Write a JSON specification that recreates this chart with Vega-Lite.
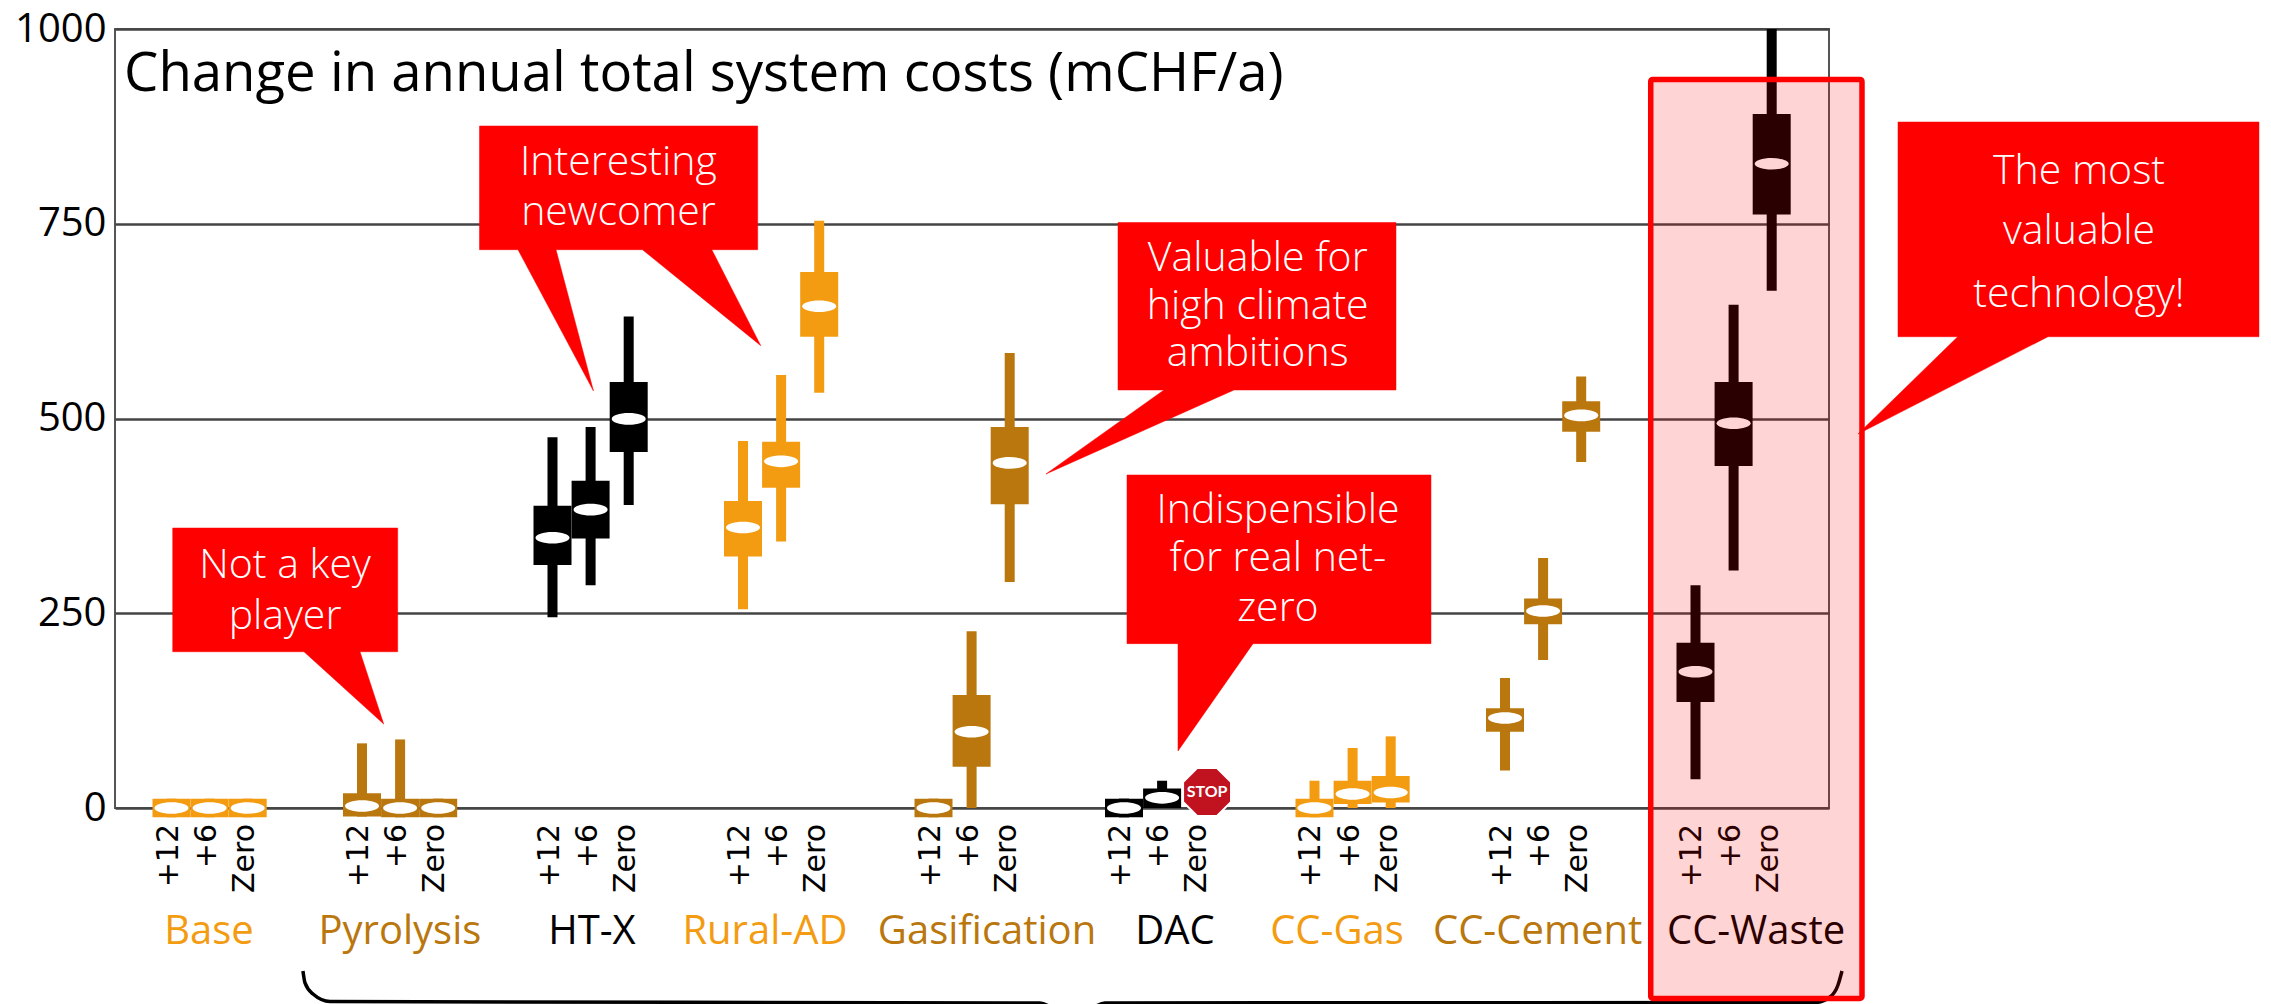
{
"$schema":"https://vega.github.io/schema/vega-lite/v6.json",
"width":1714,"height":779,
"autosize":{"type":"none"},
"padding":{"left":115,"right":442,"top":29,"bottom":196},
"background":"white",
"view":{"stroke":"#555555","strokeWidth":2},
"datasets":{
"scenarios":[
{"tech":"Base","case":"+12","x":0,"lo":-12,"q1":-12,"med":0,"q3":12,"hi":12},
{"tech":"Base","case":"+6","x":0.2,"lo":-12,"q1":-12,"med":0,"q3":12,"hi":12},
{"tech":"Base","case":"Zero","x":0.4,"lo":-12,"q1":-12,"med":0,"q3":12,"hi":12},
{"tech":"Pyrolysis","case":"+12","x":1,"lo":-11,"q1":-11,"med":2.5,"q3":19,"hi":83},
{"tech":"Pyrolysis","case":"+6","x":1.2,"lo":-12,"q1":-12,"med":0,"q3":12,"hi":88},
{"tech":"Pyrolysis","case":"Zero","x":1.4,"lo":-12,"q1":-12,"med":0,"q3":12,"hi":12},
{"tech":"HT-X","case":"+12","x":2,"lo":245,"q1":312,"med":347,"q3":388,"hi":476},
{"tech":"HT-X","case":"+6","x":2.2,"lo":286,"q1":346,"med":383,"q3":420,"hi":489},
{"tech":"HT-X","case":"Zero","x":2.4,"lo":389,"q1":457,"med":499.5,"q3":547,"hi":631},
{"tech":"Rural-AD","case":"+12","x":3,"lo":255,"q1":323,"med":360,"q3":394,"hi":471},
{"tech":"Rural-AD","case":"+6","x":3.2,"lo":342,"q1":411,"med":445,"q3":470,"hi":556},
{"tech":"Rural-AD","case":"Zero","x":3.4,"lo":533,"q1":605,"med":644,"q3":688,"hi":754},
{"tech":"Gasification","case":"+12","x":4,"lo":-12,"q1":-12,"med":0,"q3":12,"hi":12},
{"tech":"Gasification","case":"+6","x":4.2,"lo":0,"q1":53,"med":98,"q3":145,"hi":227},
{"tech":"Gasification","case":"Zero","x":4.4,"lo":290,"q1":390,"med":443,"q3":489,"hi":584},
{"tech":"DAC","case":"+12","x":5,"lo":-12,"q1":-12,"med":0,"q3":12,"hi":12},
{"tech":"DAC","case":"+6","x":5.2,"lo":0,"q1":0,"med":13,"q3":25,"hi":35},
{"tech":"DAC","case":"Zero","x":5.4,"lo":null,"q1":null,"med":null,"q3":null,"hi":null},
{"tech":"CC-Gas","case":"+12","x":6,"lo":-12,"q1":-12,"med":0,"q3":12,"hi":35},
{"tech":"CC-Gas","case":"+6","x":6.2,"lo":0,"q1":5,"med":18,"q3":35,"hi":77},
{"tech":"CC-Gas","case":"Zero","x":6.4,"lo":0,"q1":7,"med":20,"q3":41,"hi":92},
{"tech":"CC-Cement","case":"+12","x":7,"lo":48,"q1":98,"med":115.5,"q3":128,"hi":167},
{"tech":"CC-Cement","case":"+6","x":7.2,"lo":190,"q1":236,"med":253,"q3":269,"hi":321},
{"tech":"CC-Cement","case":"Zero","x":7.4,"lo":444,"q1":483,"med":504,"q3":522,"hi":554},
{"tech":"CC-Waste","case":"+12","x":8,"lo":37,"q1":136,"med":175,"q3":212,"hi":286},
{"tech":"CC-Waste","case":"+6","x":8.2,"lo":305,"q1":439,"med":494,"q3":547,"hi":646},
{"tech":"CC-Waste","case":"Zero","x":8.4,"lo":664,"q1":762,"med":827,"q3":891,"hi":1000}
],
"caseLabels":[
{"case":"+12","x":0},{"case":"+6","x":0.2},{"case":"Zero","x":0.4},
{"case":"+12","x":1},{"case":"+6","x":1.2},{"case":"Zero","x":1.4},
{"case":"+12","x":2},{"case":"+6","x":2.2},{"case":"Zero","x":2.4},
{"case":"+12","x":3},{"case":"+6","x":3.2},{"case":"Zero","x":3.4},
{"case":"+12","x":4},{"case":"+6","x":4.2},{"case":"Zero","x":4.4},
{"case":"+12","x":5},{"case":"+6","x":5.2},{"case":"Zero","x":5.4},
{"case":"+12","x":6},{"case":"+6","x":6.2},{"case":"Zero","x":6.4},
{"case":"+12","x":7},{"case":"+6","x":7.2},{"case":"Zero","x":7.4},
{"case":"+12","x":8},{"case":"+6","x":8.2},{"case":"Zero","x":8.4}
],
"techLabels":[
{"tech":"Base","x":0.197},{"tech":"Pyrolysis","x":1.199},{"tech":"HT-X","x":2.207},{"tech":"Rural-AD","x":3.115},{"tech":"Gasification","x":4.281},{"tech":"DAC","x":5.268},{"tech":"CC-Gas","x":6.118},{"tech":"CC-Cement","x":7.171},{"tech":"CC-Waste","x":8.318}
],
"bracket":[
{"piece":"a","i":0,"x":0.690,"y":-209.2},{"piece":"a","i":1,"x":0.7008,"y":-224.6},{"piece":"a","i":2,"x":0.7428,"y":-238.8},{"piece":"a","i":3,"x":0.832,"y":-248.4},{"piece":"a","i":4,"x":4.559,"y":-250.3},{"piece":"a","i":5,"x":4.637,"y":-259.3},
{"piece":"b","i":0,"x":4.822,"y":-259.3},{"piece":"b","i":1,"x":4.9,"y":-250.3},{"piece":"b","i":2,"x":8.627,"y":-249.6},{"piece":"b","i":3,"x":8.706,"y":-242.6},{"piece":"b","i":4,"x":8.748,"y":-227.2},{"piece":"b","i":5,"x":8.769,"y":-209.2}
],
"highlight":[{"x":7.765,"x2":8.874,"y":935.2,"y2":-244.5}],
"callouts":[
{"id":"c1","i":0,"x":0.0063,"y":359.4},{"id":"c1","i":1,"x":1.1874,"y":359.4},{"id":"c1","i":2,"x":1.1874,"y":200.6},{"id":"c1","i":3,"x":0.9895,"y":200.6},{"id":"c1","i":4,"x":1.1139,"y":107.8},{"id":"c1","i":5,"x":0.6955,"y":200.6},{"id":"c1","i":6,"x":0.0063,"y":200.6},{"id":"c1","i":7,"x":0.0063,"y":359.4},
{"id":"c2","i":0,"x":1.6168,"y":875.5},{"id":"c2","i":1,"x":3.0772,"y":875.5},{"id":"c2","i":2,"x":3.0772,"y":716.7},{"id":"c2","i":3,"x":2.8362,"y":716.7},{"id":"c2","i":4,"x":3.0934,"y":593.5},{"id":"c2","i":5,"x":2.4724,"y":716.7},{"id":"c2","i":6,"x":2.0184,"y":716.7},{"id":"c2","i":7,"x":2.2152,"y":535.3},{"id":"c2","i":8,"x":1.8189,"y":716.7},{"id":"c2","i":9,"x":1.6168,"y":716.7},{"id":"c2","i":10,"x":1.6168,"y":875.5},
{"id":"c3","i":0,"x":4.9685,"y":751.6},{"id":"c3","i":1,"x":6.4278,"y":751.6},{"id":"c3","i":2,"x":6.4278,"y":536.6},{"id":"c3","i":3,"x":5.5774,"y":536.6},{"id":"c3","i":4,"x":4.5906,"y":428.8},{"id":"c3","i":5,"x":5.21,"y":536.6},{"id":"c3","i":6,"x":4.9685,"y":536.6},{"id":"c3","i":7,"x":4.9685,"y":751.6},
{"id":"c4","i":0,"x":5.0157,"y":427.5},{"id":"c4","i":1,"x":6.6115,"y":427.5},{"id":"c4","i":2,"x":6.6115,"y":211},{"id":"c4","i":3,"x":5.6772,"y":211},{"id":"c4","i":4,"x":5.2835,"y":73.2},{"id":"c4","i":5,"x":5.2835,"y":211},{"id":"c4","i":6,"x":5.0157,"y":211},{"id":"c4","i":7,"x":5.0157,"y":427.5},
{"id":"c5","i":0,"x":9.063,"y":880.6},{"id":"c5","i":1,"x":10.958,"y":880.6},{"id":"c5","i":2,"x":10.958,"y":605},{"id":"c5","i":3,"x":9.8504,"y":605},{"id":"c5","i":4,"x":8.853,"y":480.1},{"id":"c5","i":5,"x":9.3764,"y":605},{"id":"c5","i":6,"x":9.063,"y":605},{"id":"c5","i":7,"x":9.063,"y":880.6}
],
"calloutText":[
{"text":"Not a key","x":0.5958,"y":310.7},{"text":"player","x":0.5958,"y":245.2},
{"text":"Interesting","x":2.346,"y":828},{"text":"newcomer","x":2.346,"y":763.8},
{"text":"Valuable for","x":5.702,"y":704.8},{"text":"high climate","x":5.702,"y":643.1},{"text":"ambitions","x":5.702,"y":582.8},
{"text":"Indispensible","x":5.808,"y":381.6},{"text":"for real net-","x":5.808,"y":319.6},{"text":"zero","x":5.808,"y":255.5},
{"text":"The most","x":10.013,"y":816.8},{"text":"valuable","x":10.013,"y":739.8},{"text":"technology!","x":10.013,"y":658.5}
]
},
"layer":[
{"data":{"name":"scenarios"},"mark":{"type":"rule","strokeWidth":10,"strokeCap":"butt"},
 "encoding":{
  "x":{"field":"x","type":"quantitative","axis":null,"scale":{"domain":[-0.2966,8.7008],"nice":false,"zero":false}},
  "y":{"field":"lo","type":"quantitative","scale":{"domain":[0,1000],"nice":false,"zero":false},
   "axis":{"title":null,"values":[0,250,500,750,1000],"format":"d","grid":true,"gridColor":"#444444","gridWidth":2.5,"domain":false,"ticks":false,"labelPadding":9,"labelFontSize":40,"labelFont":"Open Sans","labelColor":"#000000","labelBaseline":"middle"}},
  "y2":{"field":"hi"},
  "color":{"field":"tech","type":"nominal","legend":null,"scale":{"domain":["Base","Pyrolysis","HT-X","Rural-AD","Gasification","DAC","CC-Gas","CC-Cement","CC-Waste"],"range":["#F39C12","#B9770E","#000000","#F39C12","#B9770E","#000000","#F39C12","#B9770E","#000000"]}}
 }},
{"data":{"name":"scenarios"},"mark":{"type":"rule","strokeWidth":38,"strokeCap":"butt"},
 "encoding":{
  "x":{"field":"x","type":"quantitative"},
  "y":{"field":"q1","type":"quantitative"},
  "y2":{"field":"q3"},
  "color":{"field":"tech","type":"nominal"}
 }},
{"data":{"name":"scenarios"},"mark":{"type":"point","filled":true,"opacity":1,"fill":"#ffffff","stroke":null,"size":1156,"shape":"M-1,0 A1,0.34 0 1,0 1,0 A1,0.34 0 1,0 -1,0 Z"},
 "encoding":{
  "x":{"field":"x","type":"quantitative"},
  "y":{"field":"med","type":"quantitative"}
 }},
{"data":{"values":[{"x":5.436,"y":20.5}]},"mark":{"type":"point","filled":true,"opacity":1,"fill":"#C1121F","stroke":"#ffffff","strokeWidth":2,"size":2300,"shape":"M-0.414,-1 L0.414,-1 L1,-0.414 L1,0.414 L0.414,1 L-0.414,1 L-1,0.414 L-1,-0.414 Z"},
 "encoding":{
  "x":{"field":"x","type":"quantitative"},
  "y":{"field":"y","type":"quantitative"}
 }},
{"data":{"values":[{"x":5.436,"y":20.5,"text":"STOP"}]},"mark":{"type":"text","font":"Lato","fontWeight":"bold","fontSize":16,"color":"#ffffff","align":"center","baseline":"middle"},
 "encoding":{
  "x":{"field":"x","type":"quantitative"},
  "y":{"field":"y","type":"quantitative"},
  "text":{"field":"text"}
 }},
{"data":{"name":"caseLabels"},"mark":{"type":"text","font":"DejaVu Sans","fontSize":30,"angle":270,"align":"right","baseline":"middle","color":"#000000","dx":0,"dy":-3,"y":795},
 "encoding":{
  "x":{"field":"x","type":"quantitative"},
  "text":{"field":"case"}
 }},
{"data":{"name":"techLabels"},"mark":{"type":"text","font":"Open Sans","fontSize":40,"align":"center","baseline":"middle","y":903},
 "encoding":{
  "x":{"field":"x","type":"quantitative"},
  "text":{"field":"tech"},
  "color":{"field":"tech","type":"nominal"}
 }},
{"data":{"values":[{"x":-0.249,"y":920.8,"text":"Change in annual total system costs (mCHF/a)"}]},"mark":{"type":"text","font":"Open Sans","fontSize":54.5,"align":"left","baseline":"alphabetic","color":"#000000"},
 "encoding":{
  "x":{"field":"x","type":"quantitative"},
  "y":{"field":"y","type":"quantitative"},
  "text":{"field":"text"}
 }},
{"data":{"name":"bracket"},"mark":{"type":"line","stroke":"#000000","strokeWidth":3.5,"interpolate":"monotone","clip":false},
 "encoding":{
  "x":{"field":"x","type":"quantitative"},
  "y":{"field":"y","type":"quantitative"},
  "detail":{"field":"piece"},
  "order":{"field":"i"}
 }},
{"data":{"name":"highlight"},"mark":{"type":"rect","fill":"#ff0000","fillOpacity":0.17,"stroke":"#ff0000","strokeWidth":5.5,"strokeOpacity":1,"cornerRadius":2},
 "encoding":{
  "x":{"field":"x","type":"quantitative"},
  "x2":{"field":"x2"},
  "y":{"field":"y","type":"quantitative"},
  "y2":{"field":"y2"}
 }},
{"data":{"name":"callouts"},"mark":{"type":"line","fill":"#ff0000","stroke":"#ff0000","strokeWidth":0.5,"interpolate":"linear"},
 "encoding":{
  "x":{"field":"x","type":"quantitative"},
  "y":{"field":"y","type":"quantitative"},
  "detail":{"field":"id"},
  "order":{"field":"i"}
 }},
{"data":{"name":"calloutText"},"mark":{"type":"text","font":"Open Sans","fontWeight":300,"fontSize":41,"align":"center","baseline":"middle","color":"#ffffff"},
 "encoding":{
  "x":{"field":"x","type":"quantitative"},
  "y":{"field":"y","type":"quantitative"},
  "text":{"field":"text"}
 }}
]
}
